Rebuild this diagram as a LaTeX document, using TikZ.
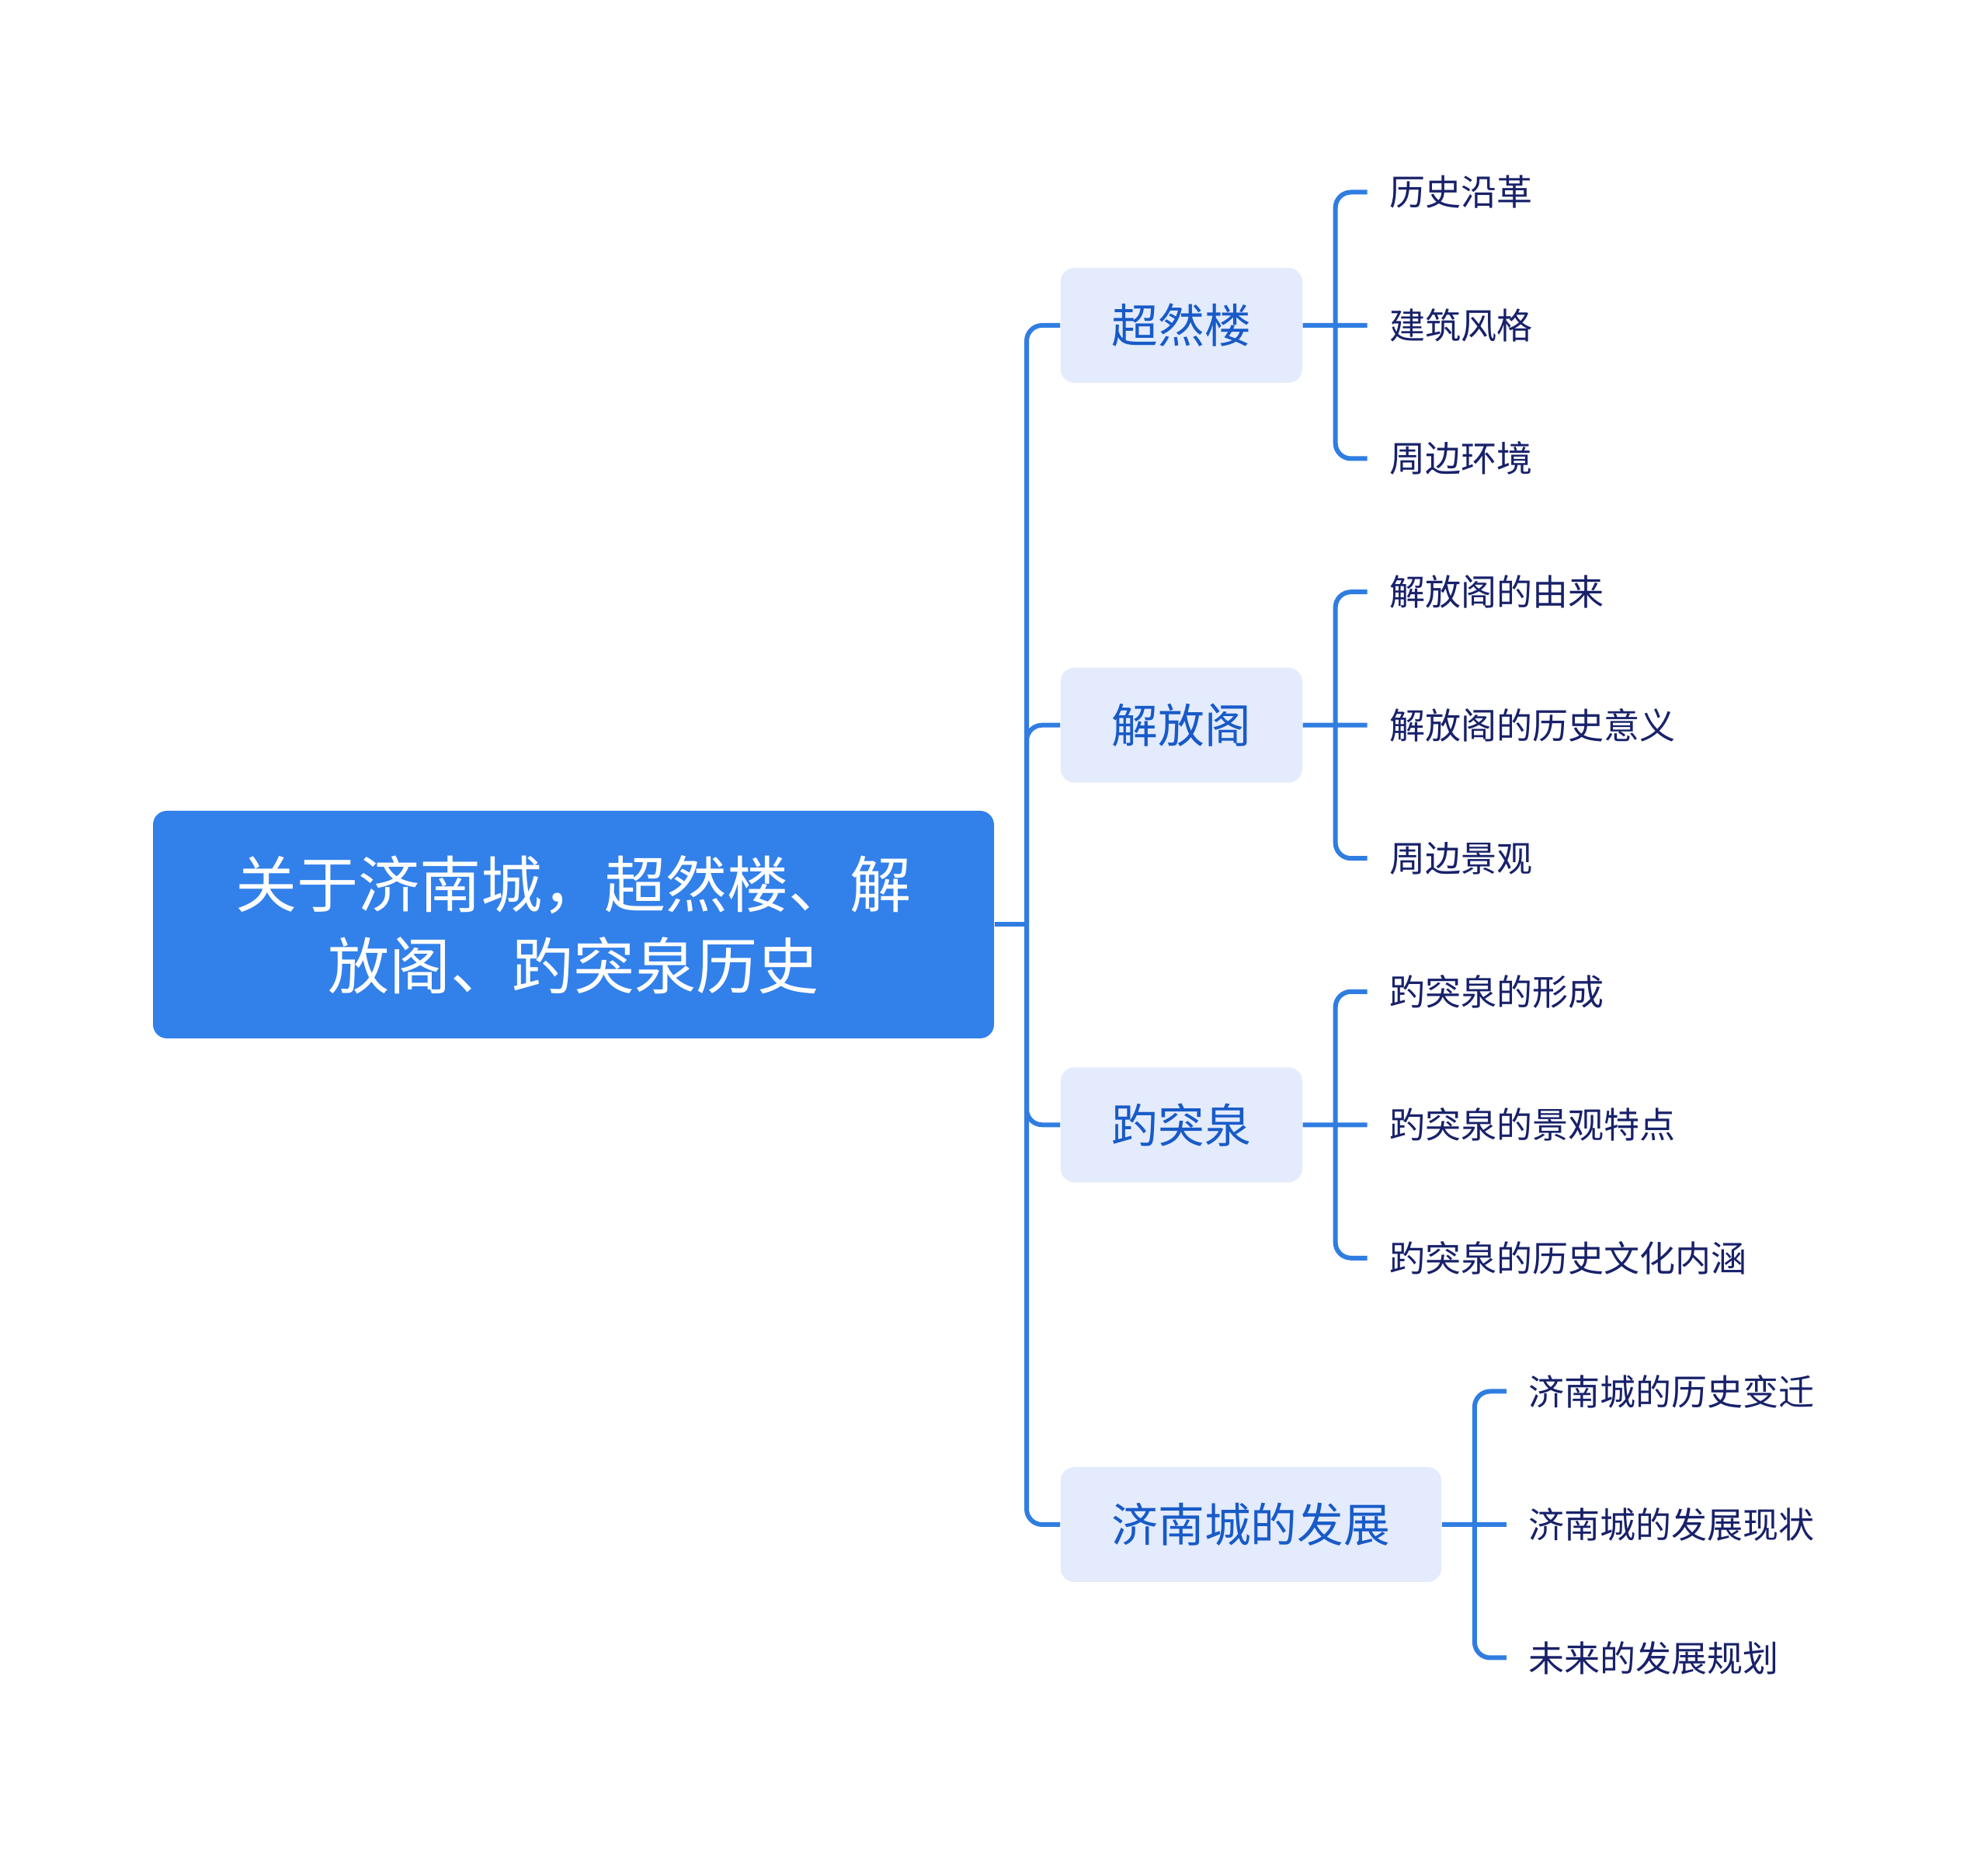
\documentclass[tikz,border=0pt]{standalone}
\usepackage{fontspec}
\setmainfont{Noto Sans CJK SC}
\usetikzlibrary{positioning}
\definecolor{rootblue}{RGB}{50,128,234}
\definecolor{linkblue}{RGB}{47,125,225}
\definecolor{topicfill}{RGB}{227,235,252}
\definecolor{topictext}{RGB}{24,90,200}
\definecolor{leaftext}{RGB}{24,33,105}

\begin{document}
\begin{tikzpicture}[
  rootbox/.style={rectangle,rounded corners=0.18cm,fill=rootblue,text=white,align=center,
    minimum width=10.83cm,minimum height=2.93cm,font=\fontsize{22.5}{29.9}\selectfont},
  topic/.style={rectangle,rounded corners=0.18cm,fill=topicfill,text=topictext,anchor=west,
    inner xsep=0.66cm,minimum height=1.48cm,font=\fontsize{17}{20}\selectfont},
  leaf/.style={anchor=west,inner xsep=0.28cm,inner ysep=0pt,text=leaftext,
    font=\fontsize{13.1}{16}\selectfont},
  link/.style={draw=linkblue,line width=1.7pt,rounded corners=0.2cm}]
\useasboundingbox (0,0) rectangle (25.6,23.82);

% root and main topics
\node (R) [rootbox] at (7.385,11.915) {关于济南城，超然楼、解\\放阁、趵突泉历史};
\node (B1) [topic] at (13.65,19.63) {超然楼};
\node (B2) [topic] at (13.65,14.483) {解放阁};
\node (B3) [topic] at (13.65,9.337) {趵突泉};
\node (B4) [topic] at (13.65,4.19) {济南城的发展};

% subtopics
\node (L11) [leaf, right=0.83cm of B1.east, yshift=1.715cm] {历史沿革};
\node (L12) [leaf, right=0.83cm of B1.east] {建筑风格};
\node (L13) [leaf, right=0.83cm of B1.east, yshift=-1.715cm] {周边环境};
\node (L21) [leaf, right=0.83cm of B2.east, yshift=1.715cm] {解放阁的由来};
\node (L22) [leaf, right=0.83cm of B2.east] {解放阁的历史意义};
\node (L23) [leaf, right=0.83cm of B2.east, yshift=-1.715cm] {周边景观};
\node (L31) [leaf, right=0.83cm of B3.east, yshift=1.715cm] {趵突泉的形成};
\node (L32) [leaf, right=0.83cm of B3.east] {趵突泉的景观特点};
\node (L33) [leaf, right=0.83cm of B3.east, yshift=-1.715cm] {趵突泉的历史文化内涵};
\node (L41) [leaf, right=0.83cm of B4.east, yshift=1.715cm] {济南城的历史变迁};
\node (L42) [leaf, right=0.83cm of B4.east] {济南城的发展现状};
\node (L43) [leaf, right=0.83cm of B4.east, yshift=-1.715cm] {未来的发展规划};

% connectors
\coordinate (T) at (13.22,11.915);
\draw[link] (R.east) -- (T);
\draw[link] (T) |- (B1.west);
\draw[link] (T) |- (B2.west);
\draw[link] (T) |- (B3.west);
\draw[link] (T) |- (B4.west);

\coordinate [right=0.42cm of B1.east] (J1);
\coordinate [right=0.42cm of B2.east] (J2);
\coordinate [right=0.42cm of B3.east] (J3);
\coordinate [right=0.42cm of B4.east] (J4);
\draw[link] (B1.east) -- (L12.west) (J1) |- (L11.west) (J1) |- (L13.west);
\draw[link] (B2.east) -- (L22.west) (J2) |- (L21.west) (J2) |- (L23.west);
\draw[link] (B3.east) -- (L32.west) (J3) |- (L31.west) (J3) |- (L33.west);
\draw[link] (B4.east) -- (L42.west) (J4) |- (L41.west) (J4) |- (L43.west);
\end{tikzpicture}
\end{document}
